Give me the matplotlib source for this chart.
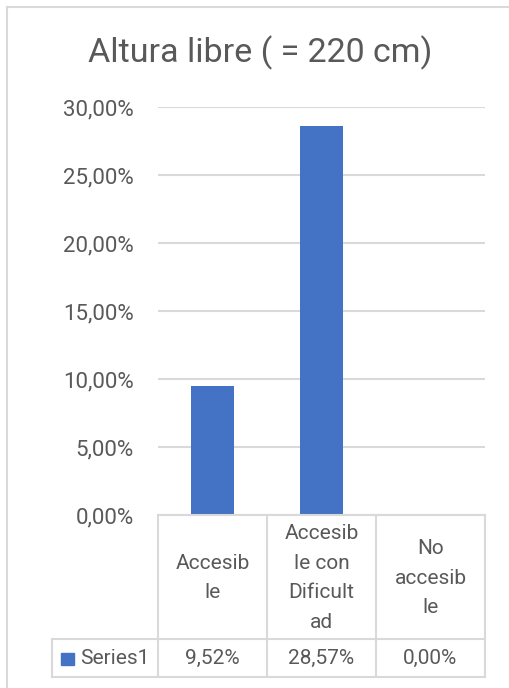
import matplotlib.pyplot as plt
from matplotlib.lines import Line2D
from matplotlib.patches import Rectangle

# Datos del grafico
categorias = ["Accesib\nle", "Accesib\nle con\nDificult\nad", "No\naccesib\nle"]
serie = "Series1"
valores = [0.0952, 0.2857, 0.0]
ticks_y = [0.0, 0.05, 0.10, 0.15, 0.20, 0.25, 0.30]

W, H = 510, 688
azul = "#4472C4"
gris_texto = "#595959"
gris_linea = "#D9D9D9"
fuente = "Roboto"

plt.rcParams['font.family'] = [fuente, 'DejaVu Sans']

fig = plt.figure(figsize=(W / 100, H / 100), dpi=100)


def fx(px):
    return px / W


def fy(py):
    return 1 - py / H


# borde exterior del grafico
fig.add_artist(Line2D([fx(7), fx(7)], [fy(7), fy(H + 5)], color=gris_linea, lw=1.5))
fig.add_artist(Line2D([fx(7), fx(W + 5)], [fy(7), fy(7)], color=gris_linea, lw=1.5))

# area de trazado
x0, x1, ytop, ybot = 158, 485, 107, 515
ax = fig.add_axes([fx(x0), fy(ybot), fx(x1 - x0), (ybot - ytop) / H])
pos = list(range(len(valores)))
ax.bar(pos, valores, width=0.4, color=azul, zorder=3)
ax.set_xlim(-0.5, len(valores) - 0.5)
ax.set_ylim(0, 0.30)
ax.set_yticks(ticks_y)
ax.set_yticklabels([f"{t * 100:.2f}%".replace(".", ",") for t in ticks_y],
                   fontsize=16, color=gris_texto)
ax.tick_params(axis='y', length=0, pad=17.5)
ax.set_xticks([])
ax.grid(axis='y', color=gris_linea, lw=1.5, zorder=0)
for s in ax.spines.values():
    s.set_visible(False)

fig.text(fx(260), fy(53), "Altura libre ( = 220 cm)", ha='center', va='center',
         fontsize=24.5, color=gris_texto)

# tabla de datos bajo el eje
row1, row2 = 639, 677
leg_left = 52
colw = (x1 - x0) / len(valores)
kw = dict(color=gris_linea, lw=1.5)
fig.add_artist(Line2D([fx(x0), fx(x1)], [fy(ybot), fy(ybot)], **kw))
fig.add_artist(Line2D([fx(leg_left), fx(x1)], [fy(row1), fy(row1)], **kw))
fig.add_artist(Line2D([fx(leg_left), fx(x1)], [fy(row2), fy(row2)], **kw))
fig.add_artist(Line2D([fx(leg_left), fx(leg_left)], [fy(row1), fy(row2)], **kw))
for i in range(len(valores) + 1):
    xl = x0 + i * colw
    fig.add_artist(Line2D([fx(xl), fx(xl)], [fy(ybot), fy(row2)], **kw))

for i, (cat, v) in enumerate(zip(categorias, valores)):
    xc = x0 + (i + 0.5) * colw
    fig.text(fx(xc), fy((ybot + row1) / 2 + 1), cat, ha='center', va='center',
             fontsize=15, color=gris_texto, linespacing=1.72)
    fig.text(fx(xc), fy((row1 + row2) / 2), f"{v * 100:.2f}%".replace(".", ","),
             ha='center', va='center', fontsize=15, color=gris_texto)

# clave de leyenda
fig.add_artist(Rectangle((fx(61), fy(665)), fx(13), 12 / H, color=azul))
fig.text(fx(80), fy((row1 + row2) / 2), serie, ha='left', va='center',
         fontsize=15, color=gris_texto)

fig.savefig("out.png", dpi=100, facecolor='white')
